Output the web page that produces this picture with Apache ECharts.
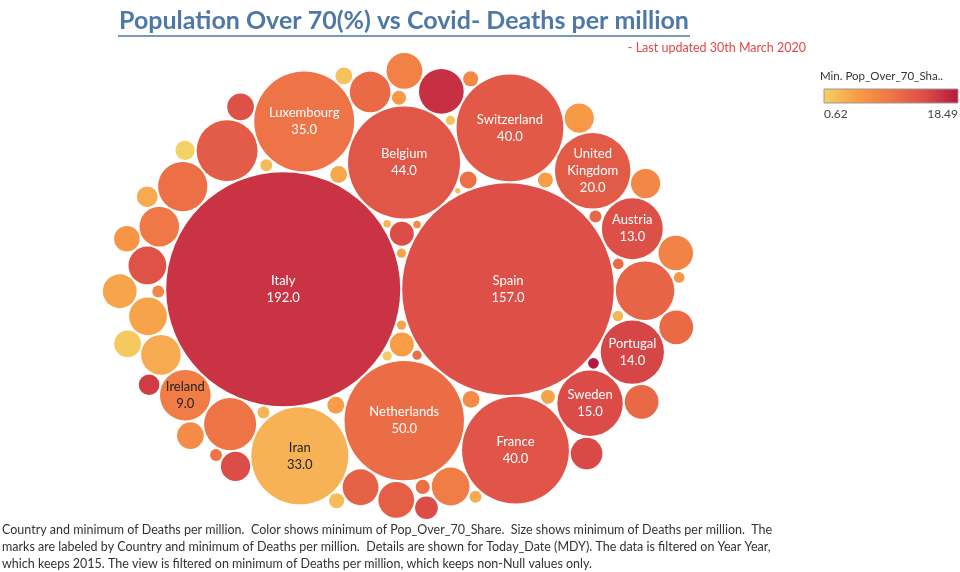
<!DOCTYPE html>
<html>
<head>
<meta charset="utf-8">
<script src="https://cdn.jsdelivr.net/npm/echarts@6/dist/echarts.min.js"></script>
<style>html,body{margin:0;padding:0;background:#fff}#main{width:960px;height:572px}</style>
</head>
<body>
<div id="main"></div>
<script>
// data (deaths per million, pop over 70 share)
var countries = ['Italy','Spain','Netherlands','Belgium','Switzerland','France','Luxembourg','Iran','United Kingdom','Sweden','Portugal','Austria','Denmark','Germany','United States','Ireland','Slovenia','Greece','Norway','Ecuador','Iceland','Panama','Estonia','Albania','Romania','Hungary','Cyprus','North Macedonia','Canada','Dominican Republic','Bosnia','Lithuania','Croatia','South Korea','Moldova','Israel','Serbia','Bahrain','China','Turkey','Finland','Czechia','Algeria','Bulgaria','Qatar','Poland','Chile','Morocco','Tunisia','Iraq','Brazil','Philippines','Argentina','Peru','Lebanon','Australia','Malaysia','Indonesia','Ukraine','Armenia','Azerbaijan','Cuba','Japan','Egypt','Belarus','Costa Rica','Colombia','Mexico','Uruguay','Kuwait','Saudi Arabia','Thailand','Guatemala','Pakistan'];
var deaths = [192,157,50,44,40,40,35,33,20,15,14,13,13,12,9.5,9,8.5,7,5.8,5.5,5.5,5,5,5,4.5,4.5,4.5,4.2,4,4,4,3.5,3,3,3,2.5,2.5,2.5,2.3,2,2,1.8,1.5,1.5,1.3,1,1,1,1,1,0.8,0.8,0.8,0.7,0.7,0.7,0.5,0.5,0.5,0.5,0.5,0.5,0.4,0.4,0.4,0.4,0.3,0.3,0.3,0.3,0.3,0.2,0.2,0.1];
var popOver70 = [16.24,13.8,10.4,12.85,12.6,13.1,9.8,3.2,12.5,14.2,14.6,13.7,12.3,11.5,9.7,8.7,10.2,16.5,10.8,3.9,9.2,4.5,13.5,8.6,11.7,11.98,8.2,8.0,10.8,4.4,10.9,14.4,14.0,7.5,5.4,7.0,13.6,1.4,5.9,5.1,14.0,14.0,3.9,15.5,0.62,10.2,6.9,4.2,5.0,1.9,5.1,2.4,7.4,4.5,5.4,10.1,2.5,3.1,11.1,7.5,3.9,9.7,18.49,2.9,10.8,5.8,4.3,4.5,10.4,1.2,1.8,6.9,3.0,2.2];
var labelled = ['Italy','Spain','Netherlands','Belgium','Switzerland','France','Luxembourg','Iran','United Kingdom','Sweden','Portugal','Austria','Ireland'];
var legendMin = 0.62, legendMax = 18.49;
var colorStops = ['#f4d166','#f89c46','#ef7546','#dc4d47','#b7183f'];

// packed bubble layout: greedy placement closest to centre
var R0 = 117, pad = 2;
var items = countries.map(function (c, i) {
  return {name: c, d: deaths[i], s: popOver70[i], r: Math.max(2.5, R0 * Math.sqrt(deaths[i] / 192))};
}).sort(function (a, b) { return b.r - a.r; });
var placed = [];
function fits(x, y, r) {
  for (var k = 0; k < placed.length; k++) {
    var p = placed[k], dx = p.x - x, dy = p.y - y;
    if (dx * dx + dy * dy < (p.r + r + pad - 0.01) * (p.r + r + pad - 0.01)) return false;
  }
  return true;
}
items.forEach(function (it, idx) {
  if (idx === 0) { it.x = -it.r; it.y = 0; placed.push(it); return; }
  if (idx === 1) { it.x = it.r + pad; it.y = 0; placed.push(it); return; }
  var best = null, bs = Infinity;
  for (var i = 0; i < placed.length; i++) for (var j = i + 1; j < placed.length; j++) {
    var a = placed[i], b = placed[j];
    var ra = a.r + it.r + pad, rb = b.r + it.r + pad;
    var dx = b.x - a.x, dy = b.y - a.y, d = Math.sqrt(dx * dx + dy * dy);
    if (d > ra + rb || d < Math.abs(ra - rb)) continue;
    var l = (ra * ra - rb * rb + d * d) / (2 * d), h = Math.sqrt(Math.max(0, ra * ra - l * l));
    var mx = a.x + dx * l / d, my = a.y + dy * l / d;
    [[mx - dy * h / d, my + dx * h / d], [mx + dy * h / d, my - dx * h / d]].forEach(function (c) {
      var sc = c[0] * c[0] * 0.62 + c[1] * c[1];
      if (sc < bs && fits(c[0], c[1], it.r)) { bs = sc; best = c; }
    });
  }
  it.x = best[0]; it.y = best[1]; placed.push(it);
});
var x0 = Infinity, x1 = -Infinity, y0 = Infinity, y1 = -Infinity;
placed.forEach(function (p) {
  x0 = Math.min(x0, p.x - p.r); x1 = Math.max(x1, p.x + p.r);
  y0 = Math.min(y0, p.y - p.r); y1 = Math.max(y1, p.y + p.r);
});
var cx = 398, cy = 286;
var offX = cx - (x0 + x1) / 2, offY = cy - (y0 + y1) / 2;

var seriesData = placed.map(function (p) {
  var item = {name: p.name, value: [p.x + offX, 572 - (p.y + offY), p.d, p.s], symbolSize: 2 * p.r};
  if (labelled.indexOf(p.name) >= 0) {
    item.label = {show: true, color: (p.s < 9 ? '#222' : '#fff')};
  }
  return item;
});

var myChart = echarts.init(document.getElementById('main'));
var option = {
  animation: false,
  grid: {left: 0, right: 0, top: 0, bottom: 0},
  xAxis: {type: 'value', min: 0, max: 960, show: false},
  yAxis: {type: 'value', min: 0, max: 572, show: false},
  visualMap: {show: false, type: 'continuous', dimension: 3, min: legendMin, max: legendMax, inRange: {color: colorStops}},
  series: [{
    type: 'scatter',
    data: seriesData,
    itemStyle: {opacity: 1},
    label: {
      show: false, position: 'inside', fontFamily: 'Lato', fontSize: 13, lineHeight: 17,
      formatter: function (p) { return p.name.replace('United Kingdom', 'United\nKingdom') + '\n' + p.value[2].toFixed(1); }
    }
  }],
  graphic: [
    {type: 'text', x: 404, y: 8, style: {text: 'Population Over 70(%) vs Covid- Deaths per million', align: 'center', fontFamily: 'Lato', fontWeight: 'bold', fontSize: 25, fill: '#4e79a7'}},
    {type: 'line', shape: {x1: 118, y1: 36, x2: 690, y2: 36}, style: {stroke: '#4e79a7', lineWidth: 1.5}},
    {type: 'text', x: 806, y: 41, style: {text: '- Last updated 30th March 2020', align: 'right', fontFamily: 'Lato', fontSize: 12.5, fill: '#e3464a'}},
    {type: 'text', x: 820, y: 70, style: {text: 'Min. Pop_Over_70_Sha..', fontFamily: 'Lato', fontSize: 11.5, fill: '#333'}},
    {type: 'rect', shape: {x: 824, y: 89, width: 134, height: 14}, style: {stroke: '#999', lineWidth: 1,
      fill: new echarts.graphic.LinearGradient(0, 0, 1, 0, colorStops.map(function (c, i) { return {offset: i / (colorStops.length - 1), color: c}; }))}},
    {type: 'text', x: 824, y: 108, style: {text: String(legendMin), fontFamily: 'Lato', fontSize: 12, fill: '#444'}},
    {type: 'text', x: 958, y: 108, style: {text: String(legendMax), align: 'right', fontFamily: 'Lato', fontSize: 12, fill: '#444'}},
    {type: 'text', x: 2, y: 521, style: {
      text: 'Country and minimum of Deaths per million.  Color shows minimum of Pop_Over_70_Share.  Size shows minimum of Deaths per million.  The\nmarks are labeled by Country and minimum of Deaths per million.  Details are shown for Today_Date (MDY). The data is filtered on Year Year,\nwhich keeps 2015. The view is filtered on minimum of Deaths per million, which keeps non-Null values only.',
      fontFamily: 'Lato', fontSize: 12.5, lineHeight: 17, fill: '#333'}}
  ]
};
myChart.setOption(option);
</script>
</body>
</html>
